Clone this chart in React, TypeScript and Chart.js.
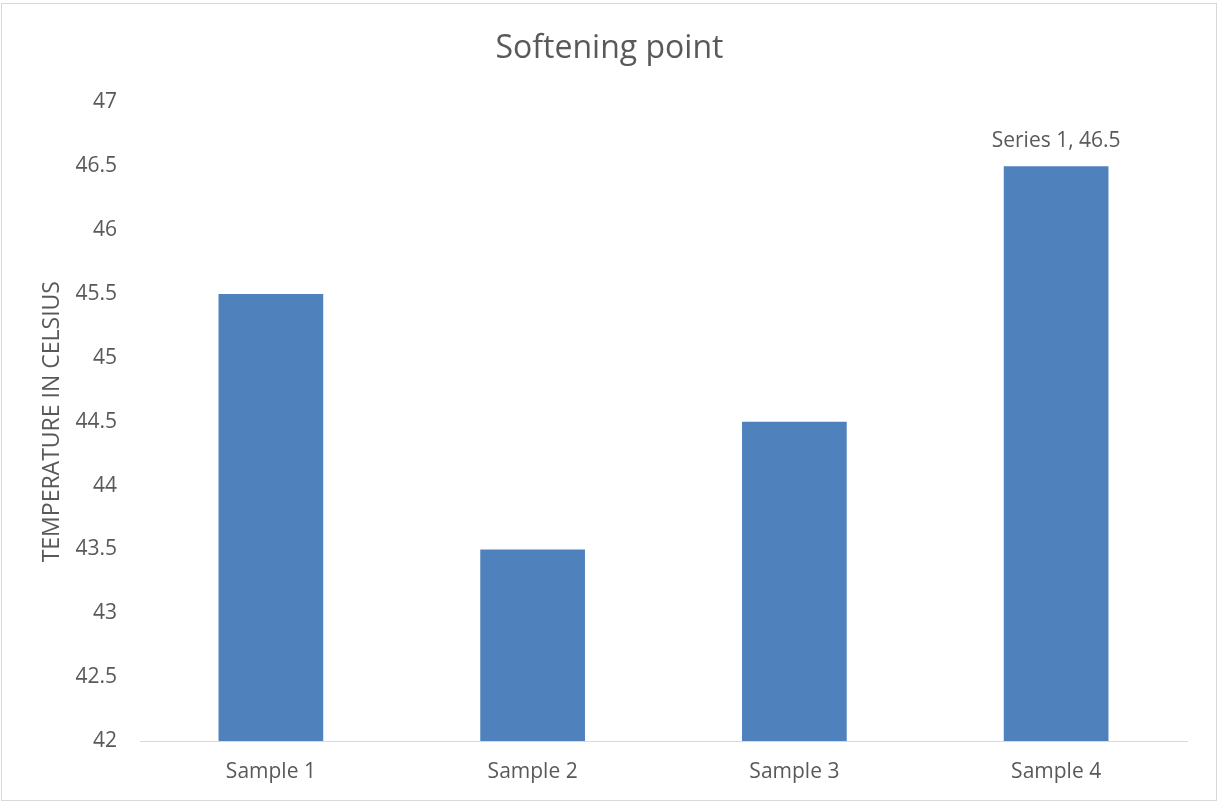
import React, { useEffect, useRef } from "react";
import { Chart, registerables } from "chart.js";

Chart.register(...registerables);

const chartTitle = "Softening point";
const yAxisTitle = "TEMPERATURE IN CELSIUS";
const categories = ["Sample 1", "Sample 2", "Sample 3", "Sample 4"];
const seriesName = "Series 1";
const values = [45.5, 43.5, 44.5, 46.5];
const yMin = 42;
const yMax = 47;
const yStep = 0.5;
const labeledIndex = 3;

const FONT = "'Open Sans', sans-serif";
const TEXT = "#595959";
const BAR = "#4F81BD";
const LINE = "#D9D9D9";

const frame = {
  id: "frame",
  beforeDraw(chart: any) {
    const ctx = chart.ctx;
    ctx.save();
    ctx.fillStyle = "#ffffff";
    ctx.fillRect(0, 0, chart.width, chart.height);
    ctx.strokeStyle = LINE;
    ctx.lineWidth = 1;
    ctx.strokeRect(1.5, 3.5, chart.width - 4, chart.height - 6);
    ctx.restore();
  },
};

const dataLabel = {
  id: "dataLabel",
  afterDatasetsDraw(chart: any) {
    const meta = chart.getDatasetMeta(0);
    const el = meta.data[labeledIndex];
    if (!el) return;
    const ctx = chart.ctx;
    ctx.save();
    ctx.font = `21px ${FONT}`;
    ctx.fillStyle = TEXT;
    ctx.textAlign = "center";
    ctx.textBaseline = "middle";
    ctx.fillText(`${seriesName}, ${values[labeledIndex]}`, el.x, el.y - 25);
    ctx.restore();
  },
};

export default function App() {
  const ref = useRef<HTMLCanvasElement>(null);
  useEffect(() => {
    if (!ref.current) return;
    const chart = new Chart(ref.current, {
      type: "bar",
      data: {
        labels: categories,
        datasets: [
          {
            label: seriesName,
            data: values,
            backgroundColor: BAR,
            borderWidth: 0,
            barPercentage: 0.4,
            categoryPercentage: 1,
          },
        ],
      },
      plugins: [frame, dataLabel],
      options: {
        responsive: false,
        animation: false,
        devicePixelRatio: 1,
        layout: { padding: { left: 0, right: 0, top: 0, bottom: 0 } },
        plugins: {
          legend: { display: false },
          tooltip: { enabled: false },
          title: {
            display: true,
            text: chartTitle,
            color: TEXT,
            font: { family: FONT, size: 32, weight: "normal", lineHeight: 1.2 },
            padding: { top: 30, bottom: 34 },
          },
        },
        scales: {
          x: {
            grid: { display: false, drawTicks: false },
            border: { display: true, color: LINE, width: 1 },
            ticks: { color: TEXT, font: { family: FONT, size: 21 }, padding: 18 },
            afterFit(scale: any) {
              scale.height = 62;
            },
          },
          y: {
            min: yMin,
            max: yMax,
            grid: { display: false, drawTicks: false },
            border: { display: false },
            ticks: {
              stepSize: yStep,
              color: TEXT,
              font: { family: FONT, size: 21 },
              padding: 23,
              callback: (v: any) => String(Number(v)),
            },
            title: {
              display: true,
              text: yAxisTitle,
              color: TEXT,
              font: { family: FONT, size: 23, weight: "normal" },
              padding: { top: 39, bottom: 0 },
            },
            afterFit(scale: any) {
              scale.width = 140;
            },
          },
          yRight: {
            type: "linear",
            position: "right",
            display: true,
            grid: { display: false, drawTicks: false },
            border: { display: false },
            ticks: { display: false },
            afterFit(scale: any) {
              scale.width = 32;
            },
          },
        },
      },
    });
    return () => chart.destroy();
  }, []);
  return (
    <div style={{ position: "absolute", left: 0, top: 0, width: 1219, height: 803, background: "#fff" }}>
      <canvas ref={ref} width={1219} height={803} style={{ display: "block", width: 1219, height: 803 }} />
    </div>
  );
}
